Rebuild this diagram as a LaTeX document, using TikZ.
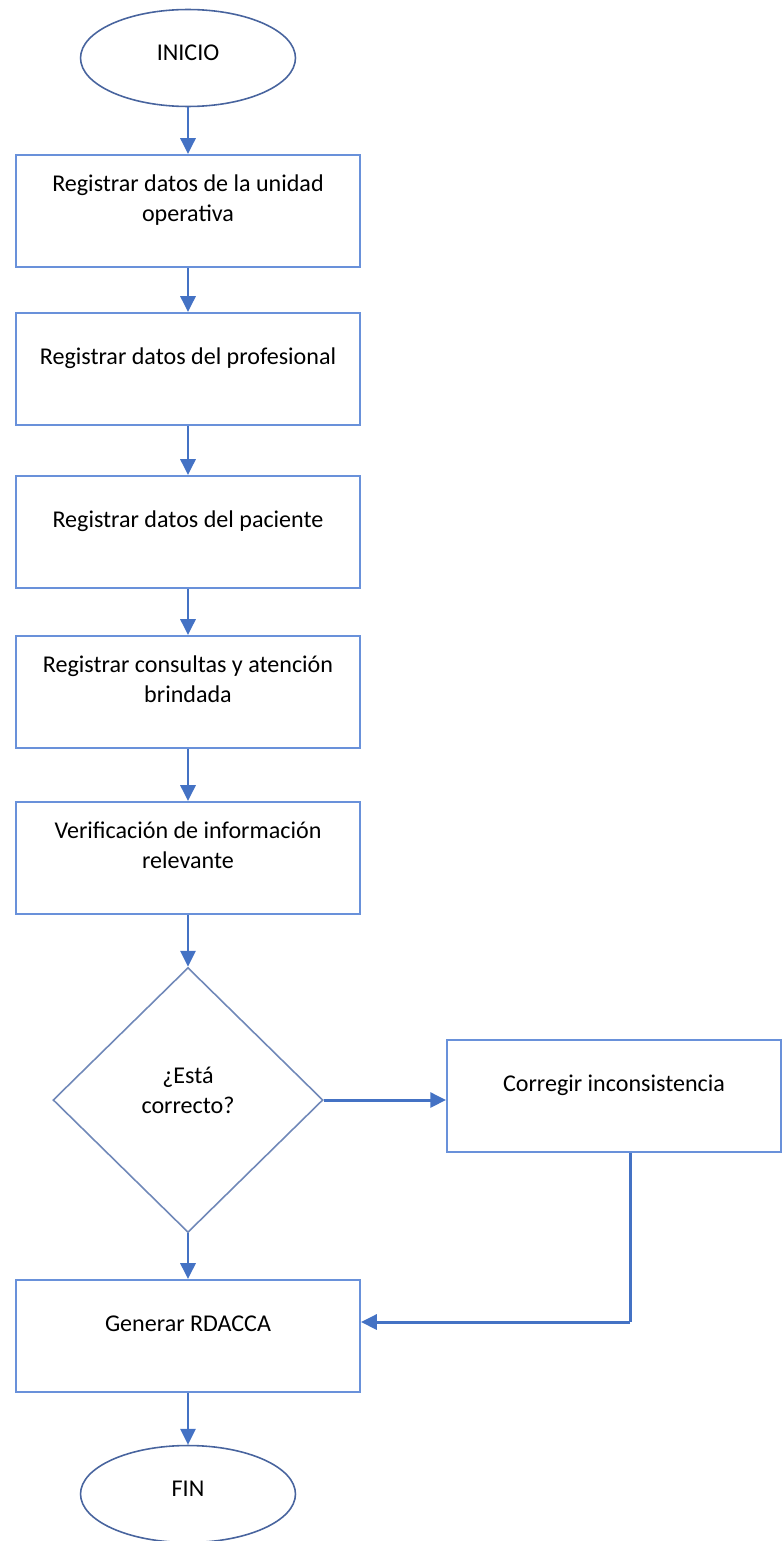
\documentclass[tikz,border=0pt]{standalone}
\usepackage{amsmath}
\usepackage{fontspec}
\setmainfont{Carlito}
\usepackage{tikz}
\usetikzlibrary{positioning,shapes.geometric,arrows.meta}

\definecolor{arrowblue}{RGB}{68,114,196}
\definecolor{boxblue}{RGB}{105,145,218}
\definecolor{endblue}{RGB}{72,100,158}
\definecolor{decblue}{RGB}{112,136,184}

\begin{document}
\begin{tikzpicture}[
						x=0.02cm, y=-0.02cm,
						font=\fontsize{13.7pt}{17pt}\selectfont,
						% Define the styles for all nodes
						box style/.style={rectangle, draw=boxblue, line width=1.1pt, minimum width=6.88cm, minimum height=2.24cm, align=center, text depth=0.5cm},
						end style/.style={ellipse, draw=endblue, line width=0.9pt, minimum width=4.3cm, minimum height=1.94cm, text depth=0.2cm},
						decision style/.style={diamond, draw=decblue, line width=0.9pt, minimum width=5.4cm, minimum height=5.3cm, align=center, text depth=0.4cm},
						arrow style/.style={arrowblue, line width=1.7pt, -{Triangle[width=8.5pt, length=9pt]}},
						line style/.style={arrowblue, line width=1.7pt}
						]
						
						\useasboundingbox (0,0) rectangle (783,1541);
						
						% Define and place your nodes
						\node[end style] (inicio) at (188,58) {INICIO};
						\node[box style] (unidad) at (188,211) {Registrar datos de la unidad\\operativa};
						\node[box style] (prof) at (188,369) {Registrar datos del profesional};
						\node[box style] (pac) at (188,532) {Registrar datos del paciente};
						\node[box style] (cons) at (188,692) {Registrar consultas y atención\\brindada};
						\node[box style] (verif) at (188,858) {Verificación de información\\relevante};
						\node[decision style] (dec) at (188,1100) {¿Está\\correcto?};
						\node[box style, minimum width=6.68cm] (corr) at (614,1096) {Corregir inconsistencia};
						\node[box style] (gen) at (188,1336) {Generar RDACCA};
						\node[end style] (fin) at (188,1494) {FIN};
						\coordinate (bend) at (630,1322);
						
						% --- Draw the edges ---
						\draw[arrow style] (inicio) -- (unidad);
						\draw[arrow style] (unidad) -- (prof);
						\draw[arrow style] (prof) -- (pac);
						\draw[arrow style] (pac) -- (cons);
						\draw[arrow style] (cons) -- (verif);
						\draw[arrow style] (verif) -- (dec);
						\draw[arrow style] (dec.east) -- (dec.east -| corr.west);
						\draw[arrow style] (dec) -- (gen);
						\draw[line style] (corr.south -| bend) -- (bend);
						\draw[arrow style] (bend) -- (gen.east |- bend);
						\draw[arrow style] (gen) -- (fin);
					\end{tikzpicture}
\end{document}
